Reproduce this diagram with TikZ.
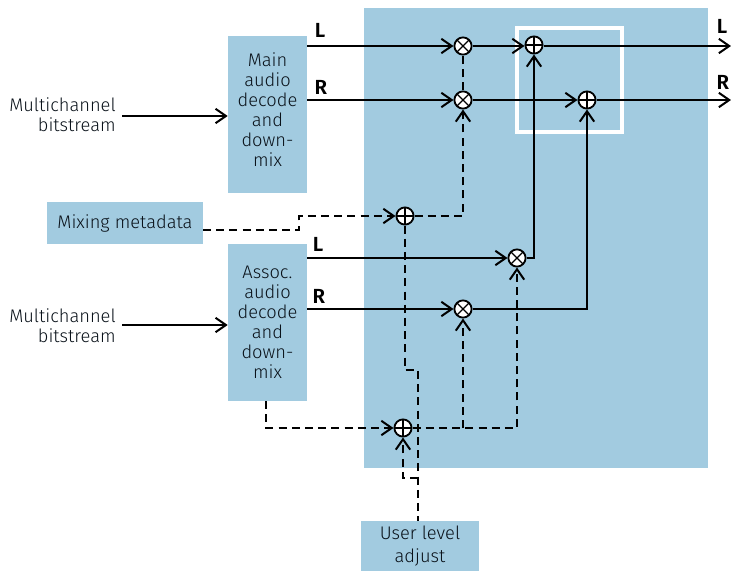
\documentclass[tikz,border=0pt]{standalone}
\usepackage{fontspec}
\setmainfont{Fira Sans Light}
\newfontfamily\boldlbl{Fira Sans}[BoldFont={Fira Sans SemiBold}]
\usetikzlibrary{arrows.meta,calc}
\definecolor{panelBlue}{RGB}{162,203,224}
\definecolor{labelInk}{RGB}{10,18,26}

\begin{document}
\begin{tikzpicture}[x=0.025cm,y=-0.025cm,font=\fontsize{13}{14.2}\selectfont,
        >={Straight Barb[length=2.6mm,width=3.6mm]},
        box/.style={fill=panelBlue,text=labelInk,align=center,inner sep=0pt},
        txt/.style={text=labelInk,align=right,inner sep=0pt,anchor=east},
        chn/.style={font=\fontsize{14.5}{16}\boldlbl\bfseries,inner sep=0pt},
        sig/.style={line width=0.5mm},
        ctl/.style={line width=0.5mm,dash pattern=on 2mm off 1.3mm},
        addn/.style={circle,draw,fill=white,line width=0.45mm,minimum size=4.3mm,inner sep=0pt,
                  path picture={\draw[line width=0.35mm]
                    (path picture bounding box.north) -- (path picture bounding box.south)
                    (path picture bounding box.west) -- (path picture bounding box.east);}},
        muln/.style={circle,draw,fill=white,line width=0.45mm,minimum size=4.3mm,inner sep=0pt,
                  path picture={\draw[line width=0.35mm]
                    (path picture bounding box.north west) -- (path picture bounding box.south east)
                    (path picture bounding box.south west) -- (path picture bounding box.north east);}}]
        \useasboundingbox (0,0) rectangle (731,571);
        % panels
        \node[box,minimum width=8.6cm,minimum height=11.5cm] (panel) at (536,238) {};
        \node[draw=white,line width=0.8mm,minimum width=2.62cm,minimum height=2.6cm,inner sep=0pt] (focus) at (569.5,80) {};
        % blocks
        \node[box,text depth=2.5mm,minimum width=1.975cm,minimum height=3.925cm] (mainDec) at (267.5,114.5)
          {Main\\audio\\decode\\and\\down-\\mix};
        \node[box,minimum width=1.975cm,minimum height=3.925cm] (assocDec) at (267.5,322.5)
          {Assoc.\\audio\\decode\\and\\down-\\mix};
        \node[box,minimum width=3.9cm,minimum height=1.05cm] (mixMeta) at (125,223) {Mixing metadata};
        \node[box,minimum width=2.95cm,minimum height=1.25cm] (userAdj) at (420,546) {User level\\[2pt]adjust};
        \node[txt] (inMain) at (116,115) {Multichannel\\bitstream};
        \node[txt] (inAssoc) at (116,326) {Multichannel\\bitstream};
        % channel labels
        \foreach \nm/\t/\x/\y in {lMain/L/320/30,rMain/R/321/87,lAssoc/L/318/244,rAssoc/R/319/296,lOut/L/722/26,rOut/R/723/82}
          \node[chn] (\nm) at (\x,\y) {\t};
        % adders and gains
        \foreach \nm/\x/\y in {addL/534/45,addR/587/100,addMeta/405/216,addUser/403/428}
          \node[addn] (\nm) at (\x,\y) {};
        \foreach \nm/\x/\y in {gainL/463/46,gainR/463/100,gainAL/517/258,gainAR/463/309}
          \node[muln] (\nm) at (\x,\y) {};
        \coordinate (outL) at (731,46);
        \coordinate (outR) at (731,100);
        \coordinate (inA) at (122,116);
        \coordinate (inB) at (122,325);
        \coordinate (metaOut) at (203,230);
        \coordinate (assocOut) at (266,401);
        \coordinate (userIn) at (418,521);
        \coordinate (userTap) at (418,478);
        % audio paths
        \draw[->,sig] (inA) -- (inA -| mainDec.west);
        \draw[->,sig] (inB) -- (inB -| assocDec.west);
        \draw[->,sig] (mainDec.east |- gainL) -- (gainL);
        \draw[->,sig] (mainDec.east |- gainR) -- (gainR);
        \draw[->,sig] (gainL) -- (addL.west |- gainL);
        \draw[->,sig] (gainR) -- (addR);
        \draw[->,sig] (addL.east |- outL) -- (outL);
        \draw[->,sig] (addR) -- (outR);
        \draw[->,sig] (assocDec.east |- gainAL) -- (gainAL);
        \draw[->,sig] (assocDec.east |- gainAR) -- (gainAR);
        \draw[->,sig] (gainAL) -| (addL);
        \draw[->,sig] (gainAR) -| (addR);
        % control paths
        \draw[->,ctl] (metaOut) -- (299,230) -- (299,216) -- (addMeta);
        \draw[->,ctl] (addMeta) -| (gainR);
        \draw[ctl] (gainR) -- (gainL);
        \draw[ctl] (addMeta) -- (405,370) -- (418,370) -- (userIn);
        \draw[->,ctl] (userTap) -- (403,478) -- (addUser);
        \draw[->,ctl] (assocOut) -- (266,428) -- (addUser);
        \draw[->,ctl] (addUser) -| (gainAL);
        \draw[->,ctl] (463,428) -- (gainAR);
\end{tikzpicture}
\end{document}
